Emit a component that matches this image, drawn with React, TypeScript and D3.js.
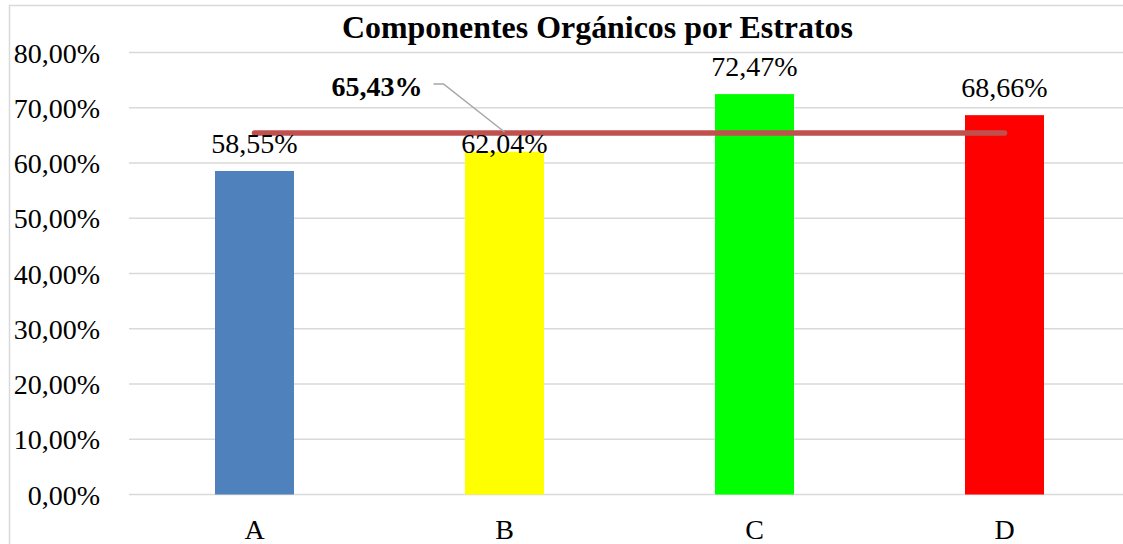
import React from "react";
import * as d3 from "d3";

// data
const categories = ["A", "B", "C", "D"];
const values = [0.5855, 0.6204, 0.7247, 0.6866];
const barColors = ["#4F81BD", "#FFFF00", "#00FF00", "#FF0000"];
const yTicks = [0, 0.1, 0.2, 0.3, 0.4, 0.5, 0.6, 0.7, 0.8];
const title = "Componentes Orgánicos por Estratos";

const W = 1123;
const H = 544;
const FONT = "'Liberation Serif', 'Times New Roman', serif";
const FS = 28;

const pct = (v: number) => d3.format(".2f")(v * 100).replace(".", ",") + "%";

export default function App() {
  const avg = d3.mean(values) as number;

  const x = d3
    .scaleBand<string>()
    .domain(categories)
    .range([129.5, 1129.5])
    .paddingInner(0.684)
    .paddingOuter(0.342);

  const y = d3.scaleLinear().domain([0, 0.8]).range([494.5, 52.5]);

  const cx = (c: string) => (x(c) as number) + x.bandwidth() / 2;

  const avgLine = d3.line<string>()
    .x((c) => cx(c))
    .y(() => y(avg));

  // label for the average sits up-left of bar B with a leader line
  const labelEndX = cx("B") - 82;
  const labelBase = y(avg) - 37;
  const leader = d3.line<[number, number]>()([
    [labelEndX + 11, labelBase - 12],
    [labelEndX + 21, labelBase - 12],
    [cx("B"), y(avg) - 1],
  ]);

  return (
    <svg
      width={W}
      height={H}
      style={{ position: "absolute", left: 0, top: 0, background: "#fff" }}
      fontFamily={FONT}
    >
      <rect x={9.5} y={5.5} width={W + 20} height={H + 20} fill="#fff" stroke="#D9D9D9" strokeWidth={1.5} />

      {yTicks.map((t) => (
        <g key={t}>
          <line x1={129} x2={W + 10} y1={y(t)} y2={y(t)} stroke="#D9D9D9" strokeWidth={1.5} />
          <text x={100} y={y(t) + 10} textAnchor="end" fontSize={FS} fill="#000">
            {pct(t)}
          </text>
        </g>
      ))}

      <text
        x={597.5}
        y={38}
        textAnchor="middle"
        fontSize={31}
        fontWeight="bold"
        fill="#000"
        textLength={511}
        lengthAdjust="spacingAndGlyphs"
      >
        {title}
      </text>

      {categories.map((c, i) => (
        <rect
          key={c}
          x={x(c)}
          y={y(values[i])}
          width={x.bandwidth()}
          height={y(0) - y(values[i])}
          fill={barColors[i]}
        />
      ))}

      {categories.map((c) => (
        <text key={c} x={cx(c)} y={539} textAnchor="middle" fontSize={FS} fill="#000">
          {c}
        </text>
      ))}

      <path
        d={avgLine([categories[0], categories[categories.length - 1]]) as string}
        stroke="#C0504D"
        strokeWidth={5.5}
        strokeLinecap="round"
        fill="none"
      />

      {categories.map((c, i) => (
        <text
          key={c}
          x={cx(c)}
          y={c === "B" ? y(values[i]) + 1 : y(values[i]) - 18}
          textAnchor="middle"
          fontSize={FS}
          fill="#000"
        >
          {pct(values[i])}
        </text>
      ))}

      <path d={leader as string} stroke="#A6A6A6" strokeWidth={1.5} fill="none" />
      <text x={labelEndX} y={labelBase} textAnchor="end" fontSize={FS} fontWeight="bold" fill="#000">
        {pct(avg)}
      </text>
    </svg>
  );
}
